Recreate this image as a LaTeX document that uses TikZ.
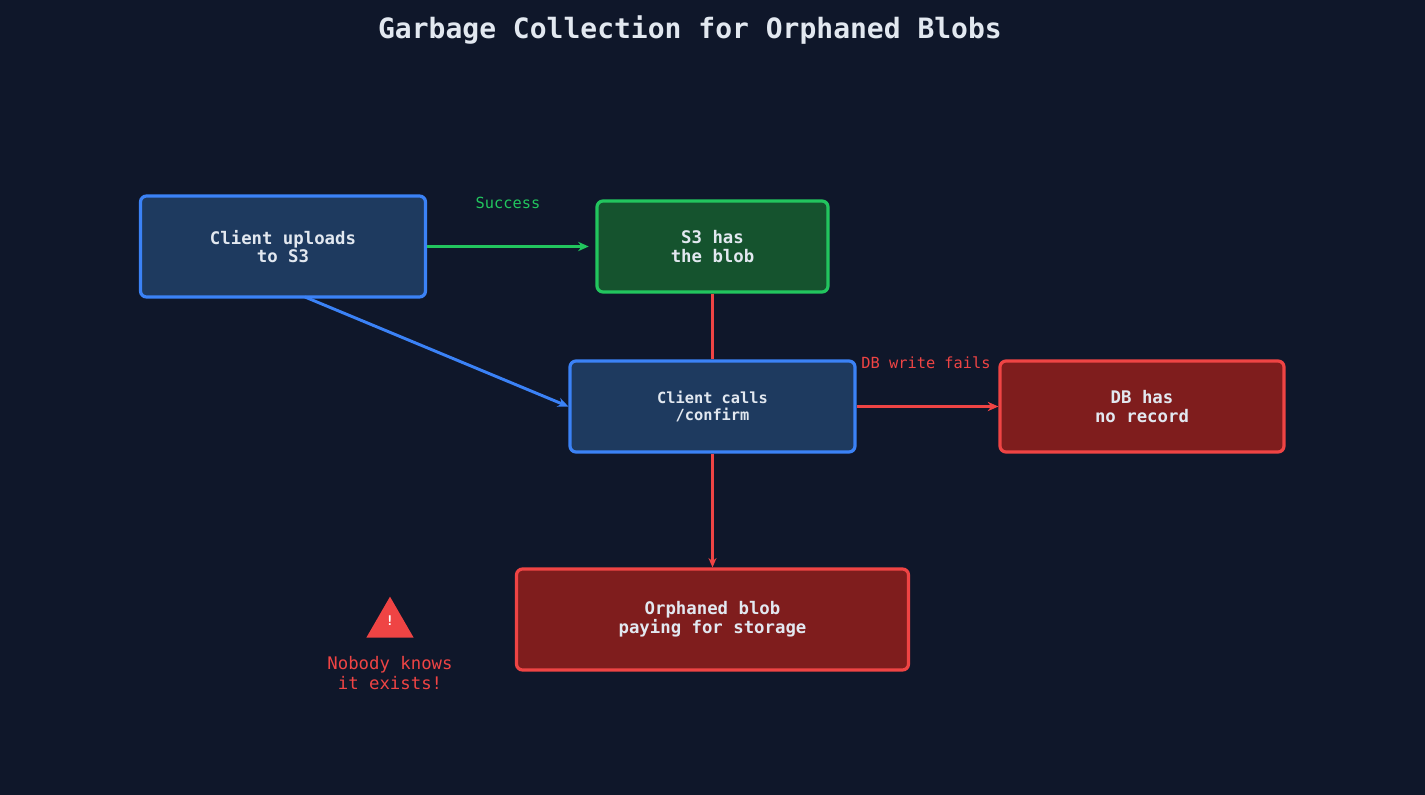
\documentclass[tikz,border=0pt]{standalone}
\usepackage{fontspec}
\setmonofont{DejaVu Sans Mono}
\usetikzlibrary{arrows.meta,shapes.geometric}
\definecolor{bgnavy}{HTML}{0F172A}
\definecolor{txtlight}{HTML}{E2E8F0}
\definecolor{bluefill}{HTML}{1E3A5F}
\definecolor{blueline}{HTML}{3B82F6}
\definecolor{greenfill}{HTML}{15532E}
\definecolor{greenline}{HTML}{22C55E}
\definecolor{redfill}{HTML}{7F1D1D}
\definecolor{redline}{HTML}{EF4444}
\tikzset{every picture/.style={line width=0.75pt}}
\tikzset{
  box/.style={rounded corners=4.5pt, line width=2.4pt, text=txtlight, align=center,
    font=\ttfamily\bfseries\fontsize{13}{14}\selectfont, inner sep=0pt},
  bluebox/.style={box, draw=blueline, fill=bluefill},
  greenbox/.style={box, draw=greenline, fill=greenfill},
  redbox/.style={box, draw=redline, fill=redfill},
  flow/.style={line width=2.2pt, -{Stealth[length=8pt,width=7pt]}},
  lbl/.style={font=\ttfamily\fontsize{11.5}{13}\selectfont}
}

\begin{document}
\begin{tikzpicture}[x=0.75pt,y=0.75pt,yscale=-1,xscale=1]
% background
\fill[bgnavy] (0,0) rectangle (1425,795);
\useasboundingbox (0,0) rectangle (1425,795);

% Title
\node (title) at (690,30) [text=txtlight, font=\ttfamily\bfseries\fontsize{21}{24}\selectfont] {Garbage Collection for Orphaned Blobs};

% Boxes
\node (upload) at (283,246.5) [bluebox, minimum width=213.75pt, minimum height=75.75pt] {Client uploads\\to S3};
\node (hasblob) at (712.5,246.5) [greenbox, minimum width=173.25pt, minimum height=68.25pt] {S3 has\\the blob};
\node (confirm) at (712.5,406.5) [bluebox, minimum width=213.75pt, minimum height=68.25pt, font=\ttfamily\bfseries\fontsize{11.5}{13}\selectfont] {Client calls\\/confirm};
\node (norecord) at (1142,406.5) [redbox, minimum width=213pt, minimum height=68.25pt] {DB has\\no record};
\node (orphan) at (712.5,619.5) [redbox, minimum width=294pt, minimum height=75.75pt] {Orphaned blob\\paying for storage};

% Connectors
\draw[flow, greenline] (upload.east) -- ([xshift=-5pt]hasblob.west);
\node (success) at (508,203) [lbl, text=greenline] {Success};
\draw[flow, blueline] (305,297) -- (confirm.west);
\draw[redline, line width=1.6pt] (hasblob.south) -- (confirm.north);
\draw[flow, redline] (confirm.east) -- (norecord.west);
\node (dbfail) at (926,363) [lbl, text=redline] {DB write fails};
\draw[redline, line width=1.6pt, -{Stealth[length=7pt,width=6pt]}] (confirm.south) -- (orphan.north);

% Warning
\node (warn) at (390,624) [fill=redline, regular polygon, regular polygon sides=3, minimum size=41pt, inner sep=0pt] {};
\node at (390,621) [text=white, font=\ttfamily\bfseries\fontsize{10}{12}\selectfont] {!};
\node (nobody) at (390,673) [lbl, text=redline, align=center, font=\ttfamily\fontsize{13}{15}\selectfont] {Nobody knows\\it exists!};
\end{tikzpicture}
\end{document}
